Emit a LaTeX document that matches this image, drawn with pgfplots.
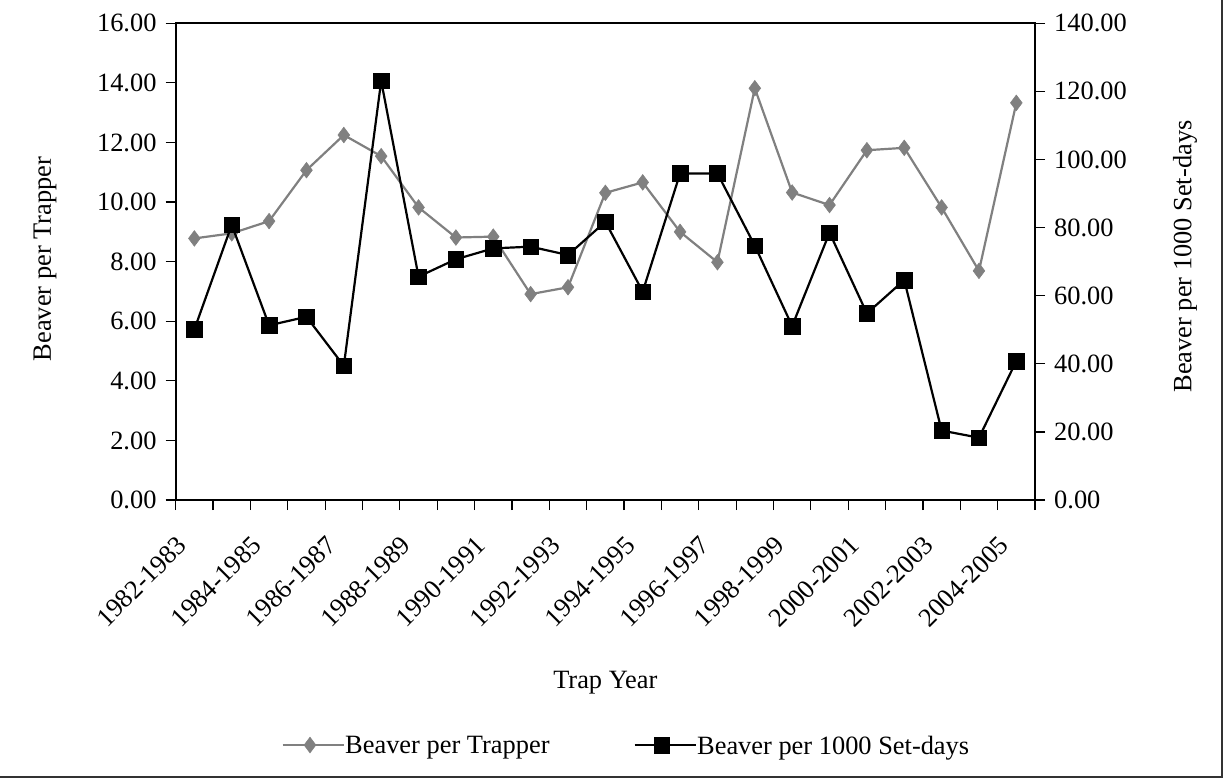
\documentclass[border=0pt]{standalone}
\usepackage{fontspec}
\setmainfont{Liberation Serif}
\usepackage{pgfplots}
\usepackage{pgfplotstable}
\pgfplotsset{compat=1.18}
\definecolor{sgray}{RGB}{128,128,128}
\pgfplotstableread{
idx T S
0 8.78 50.1
1 8.95 80.8
2 9.36 51.3
3 11.07 53.8
4 12.25 39.4
5 11.54 123.1
6 9.82 65.6
7 8.81 70.7
8 8.84 73.9
9 6.91 74.4
10 7.14 71.95
11 10.31 81.7
12 10.66 61.2
13 9.00 95.9
14 7.98 95.9
15 13.82 74.7
16 10.32 51.1
17 9.90 78.5
18 11.74 54.8
19 11.82 64.6
20 9.82 20.4
21 7.69 18.3
22 13.33 40.8
}\datatable
\begin{document}
\fontsize{13.2}{15.8}\selectfont
\begin{tikzpicture}
\useasboundingbox (0,0) rectangle (612.5pt,391.5pt);
\draw[line width=0.8pt, black!80] (611pt,391.5pt) -- (611pt,3pt) -- (0pt,3pt);
\pgfplotsset{
  every axis/.append style={
    font=\fontsize{13.2}{15.8}\selectfont,
    scale only axis, width=429.65pt, height=238.35pt,
    at={(87.85pt,141.5pt)}, anchor=south west,
    xmin=-0.5, xmax=22.5,
    tick align=outside,
    major tick length=5pt,
    axis line style={line width=1pt},
    every tick/.style={black, line width=0.6pt},
    /pgf/number format/.cd, fixed, fixed zerofill, precision=2, assume math mode=true,
  },
}
\begin{axis}[
  ymin=0, ymax=16, ytick={0,2,...,16},
  tick pos=left,
  xtick={0,2,...,22},
  xticklabels={1982-1983,1984-1985,1986-1987,1988-1989,1990-1991,1992-1993,1994-1995,1996-1997,1998-1999,2000-2001,2002-2003,2004-2005},
  minor xtick={-0.5,0.5,...,22.5},
  major x tick style={draw=none},
  minor x tick style={black, line width=0.6pt},
  minor tick length=5pt,
  x tick label style={xshift=-3pt, yshift=-18.5pt, rotate=45, anchor=base east, inner sep=0pt},
  xlabel={Trap Year},
  xlabel style={at={(axis description cs:0.5,-0.384)}, anchor=center},
  ylabel={Beaver per Trapper},
  ylabel style={at={(axis description cs:-0.152,0.5056)}, anchor=center},
]
\addplot[sgray, line width=1.1pt, mark=diamond*, mark size=3.9pt, mark options={fill=sgray, draw=sgray, line width=0.3pt}] table[x=idx, y=T] {\datatable};
\end{axis}
\begin{axis}[
  ymin=0, ymax=140, ytick={0,20,...,140},
  axis x line=none, axis y line*=right, ytick pos=right,
  ylabel={Beaver per 1000 Set-days},
  ylabel style={at={(axis description cs:1.1746,0.5108)}, anchor=center},
  legend columns=2,
  legend style={at={(axis description cs:0.5233,-0.514)}, anchor=center, draw=none, fill=none,
    /tikz/every even column/.append style={column sep=42pt}, inner sep=0pt,
    nodes={inner sep=0pt, text depth=0pt}, legend cell align=left},
  legend image code/.code={\draw[mark repeat=2,mark phase=2] plot coordinates {(0cm,0cm)(0.48cm,0cm)(0.96cm,0cm)};\path (0.96cm,0cm) -- (1.08cm,0cm);},
]
\addlegendimage{sgray, line width=1.1pt, mark=diamond*, mark size=3.9pt, mark options={fill=sgray, draw=sgray, line width=0.3pt}}
\addlegendentry{Beaver per Trapper}
\addplot[black, line width=1.1pt, mark=square*, mark size=3.9pt, mark options={fill=black, line width=0.3pt}] table[x=idx, y=S] {\datatable};
\addlegendentry{Beaver per 1000 Set-days}
\end{axis}
\end{tikzpicture}
\end{document}
